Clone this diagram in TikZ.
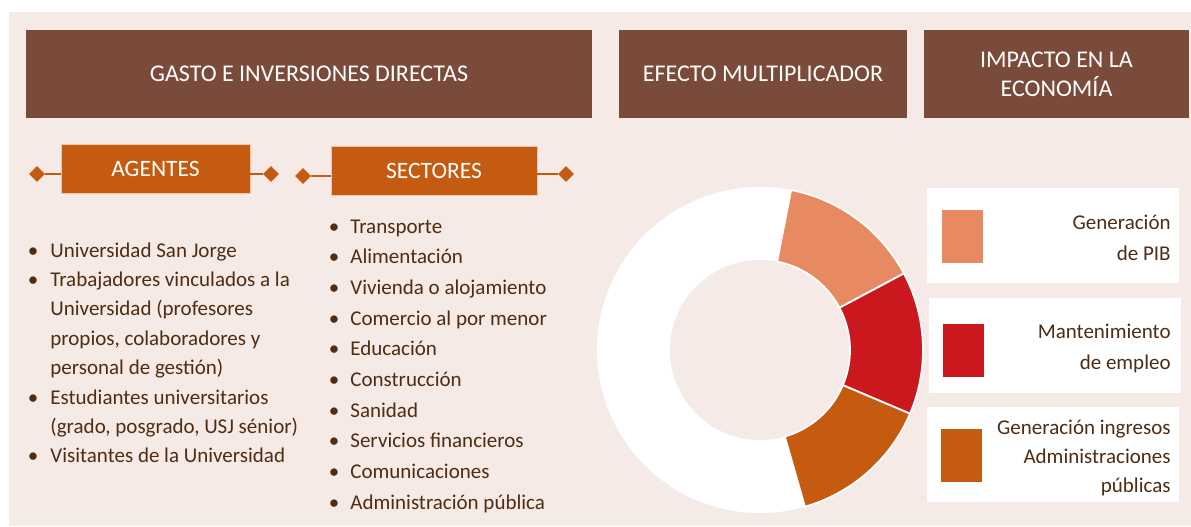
\documentclass[tikz,border=0pt]{standalone}
\usepackage{fontspec}
\setmainfont{Carlito}
\usepackage{xcolor}
\usepackage{tikz}
\usetikzlibrary{shapes.geometric}

\definecolor{usjbg}{HTML}{F5EAE5}
\definecolor{usjbrown}{HTML}{7A4B3A}
\definecolor{usjorange}{HTML}{C55A11}
\definecolor{usjsalmon}{HTML}{E78A61}
\definecolor{usjred}{HTML}{CB171E}
\definecolor{usjtext}{HTML}{4F2C12}

\begin{document}
\begin{tikzpicture}[x=0.5pt, y=-0.5pt,
    header/.style={fill=usjbrown, text=white, align=center, inner sep=0pt, minimum height=44pt, font=\fontsize{12}{14.5}\selectfont},
    tab/.style={fill=usjorange, draw=white!65!usjorange, line width=0.4pt, text=white, inner sep=0pt, minimum height=24.5pt, font=\fontsize{11.75}{14}\selectfont},
    gem/.style={diamond, fill=usjorange, inner sep=0pt, minimum width=8pt, minimum height=8pt},
    link/.style={usjorange, line width=0.9pt},
    item/.style={anchor=base west, inner sep=0pt, text=usjtext, font=\fontsize{10.5}{12}\selectfont},
    dot/.style={anchor=base, inner sep=0pt, text=usjtext, font=\fontsize{10.5}{12}\selectfont},
    legbox/.style={fill=white, inner sep=0pt, minimum width=126pt, minimum height=47.5pt},
    swatch/.style={inner sep=0pt, minimum width=20.5pt, minimum height=26.5pt},
    legtext/.style={anchor=base east, inner sep=0pt, text=usjtext, font=\fontsize{10.5}{12}\selectfont}]

  \useasboundingbox (0,0) rectangle (1191,526);
  \fill[usjbg] (9,12) rectangle (1191,526);

  % Headers
  \node[header, minimum width=283pt] (gasto) at (309,74) {GASTO E INVERSIONES DIRECTAS};
  \node[header, minimum width=144pt] (efecto) at (763,74) {EFECTO MULTIPLICADOR};
  \node[header, minimum width=132.5pt] (impacto) at (1056.5,74) {IMPACTO EN LA\\ECONOMÍA};

  % Tabs with diamonds
  \node[tab, minimum width=94.5pt] (agentes) at (155.5,168.5) {AGENTES};
  \node[gem] (agl) at (37,174) {};
  \node[gem] (agr) at (271,174) {};
  \draw[link] (agl) -- (agl -| agentes.west);
  \draw[link] (agr) -- (agr -| agentes.east);

  \node[tab, minimum width=103pt] (sectores) at (434,171) {SECTORES};
  \node[gem] (sel) at (303,176) {};
  \node[gem] (ser) at (566,174) {};
  \draw[link] (sel) -- (sel -| sectores.west);
  \draw[link] (ser) -- (ser -| sectores.east);

  % Agents list
  \foreach \f/\t [count=\i] in {1/Universidad San Jorge, 1/Trabajadores vinculados a la,
      0/Universidad (profesores, 0/{propios, colaboradores y}, 0/personal de gestión),
      1/Estudiantes universitarios, 0/{(grado, posgrado, USJ sénior)}, 1/Visitantes de la Universidad} {
    \node[item] (ag\i) at (50,{257+29.4*(\i-1)}) {\t};
    \ifnum\f=1 \node[dot] (agdot\i) at (33,{257+29.4*(\i-1)}) {•}; \fi
  }

  % Sectors list
  \foreach \s [count=\i] in {Transporte, Alimentación, Vivienda o alojamiento, Comercio al por menor,
      Educación, Construcción, Sanidad, Servicios financieros, Comunicaciones, Administración pública} {
    \node[item] (se\i) at (350,{233+30.67*(\i-1)}) {\s};
    \node[dot] (sedot\i) at (334,{233+30.67*(\i-1)}) {•};
  }

  % Donut
  \coordinate (donut) at (760,350);
  \fill[white] (donut) circle[radius=81.5pt];
  \fill[usjbg] (donut) circle[radius=45pt];
  \foreach \a/\b/\c in {79/28/usjsalmon, 28/-23/usjred, -23/-74/usjorange}
    \filldraw[fill=\c, draw=white, line width=0.9pt] ([shift={(\a:81.5pt)}]donut)
      arc[start angle=\a, end angle=\b, radius=81.5pt] -- ([shift={(\b:45pt)}]donut)
      arc[start angle=\b, end angle=\a, radius=45pt] -- cycle;

  % Legend
  \node[legbox] (pib) at (1053,235.5) {};
  \node[legbox] (empleo) at (1055,345.5) {};
  \node[legbox] (ingresos) at (1053,454.5) {};
  \node[swatch, fill=usjsalmon] (pibsw) at (962.5,236.5) {};
  \node[swatch, fill=usjred] (empleosw) at (963.5,350.5) {};
  \node[swatch, fill=usjorange] (ingresossw) at (961.5,455.5) {};
  \foreach \t/\y [count=\i] in {Generación/229, de PIB/260, Mantenimiento/338, de empleo/369,
      Generación ingresos/434, Administraciones/463, públicas/492}
    \node[legtext] (leg\i) at (1171,\y) {\t};
\end{tikzpicture}
\end{document}
